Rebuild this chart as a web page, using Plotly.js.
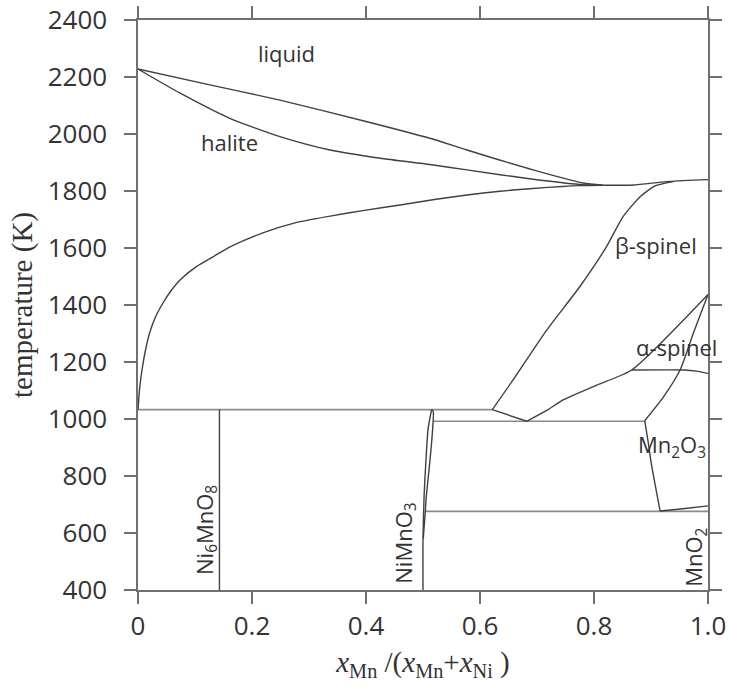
<!DOCTYPE html>
<html>
<head>
<meta charset="utf-8">
<script src="https://cdn.plot.ly/plotly-3.0.1.min.js"></script>
<style>html,body{margin:0;padding:0;background:#fff;}#chart{width:729px;height:688px;}</style>
</head>
<body>
<div id="chart"></div>
<script>
// ---- data (x = xMn/(xMn+xNi), T in K) ----
const liquidusX = [0, 0.12, 0.249, 0.4, 0.512, 0.577, 0.693, 0.781, 0.815];
const liquidusT = [2228, 2175, 2119, 2044, 1985, 1944, 1874, 1828, 1820];

const solidusX = [0, 0.074, 0.161, 0.249, 0.337, 0.425, 0.512, 0.577, 0.693, 0.775, 0.815];
const solidusT = [2228, 2143, 2055, 1991, 1944, 1915, 1893, 1874, 1841, 1823, 1820];

const haliteX = [0, 0.0026, 0.007, 0.014, 0.021, 0.0316, 0.0439, 0.0579, 0.0737, 0.1018, 0.1316, 0.1614, 0.219, 0.277, 0.337, 0.4, 0.46, 0.52, 0.577, 0.635, 0.693, 0.745, 0.775, 0.815];
const haliteT = [1032, 1102, 1172, 1250, 1306, 1362, 1407, 1450, 1488, 1534, 1569, 1604, 1653, 1689, 1712, 1733, 1751, 1770, 1786, 1799, 1809, 1816, 1819, 1820];

const topX = [0.815, 0.869, 0.927, 0.986, 1.0];
const topT = [1820, 1821, 1833, 1839, 1840];

const betaX = [0.6216, 0.658, 0.717, 0.775, 0.822, 0.851, 0.881, 0.907, 0.939];
const betaT = [1033, 1137, 1312, 1464, 1605, 1710, 1780, 1818, 1833];

const vX = [0.6216, 0.682];
const vT = [1033, 992];

const alphaLowX = [0.682, 0.717, 0.746, 0.805, 0.866, 1.0];
const alphaLowT = [992, 1030, 1067, 1119, 1172, 1437];

const alphaFlatX = [0.866, 0.958, 0.98, 1.0];
const alphaFlatT = [1172, 1172, 1168, 1160];

const mn2o3X = [1.0, 0.975, 0.951, 0.921, 0.889];
const mn2o3T = [1437, 1305, 1172, 1075, 994];

const mn2o3LowX = [0.889, 0.895, 0.901, 0.916];
const mn2o3LowT = [994, 920, 838, 677];

const mno2X = [0.916, 0.96, 1.0];
const mno2T = [677, 686, 695];

const lensLeftX = [0.5, 0.5, 0.502, 0.505, 0.509, 0.515];
const lensLeftT = [400, 581, 733, 850, 967, 1033];
const lensRightX = [0.515, 0.518, 0.517, 0.512, 0.506, 0.504, 0.5005];
const lensRightT = [1033, 1026, 967, 850, 733, 675, 581];

const ni6X = [0.1429, 0.1429];
const ni6T = [400, 1033];

const iso1X = [0, 0.6216];   const iso1T = [1033, 1033];
const iso2X = [0.518, 0.889]; const iso2T = [992, 992];
const iso3X = [0.504, 1.0];   const iso3T = [676, 676];

const xTickVals = [0, 0.2, 0.4, 0.6, 0.8, 1.0];
const xTickText = ['0', '0.2', '0.4', '0.6', '0.8', '1.0'];
const yTickVals = [400, 600, 800, 1000, 1200, 1400, 1600, 1800, 2000, 2200, 2400];

// ---- styling ----
const curveColor = '#404040';
const isoColor = '#8a8a8a';
function curve(x, y, smooth) {
  return {x: x, y: y, type: 'scatter', mode: 'lines', hoverinfo: 'skip', showlegend: false,
    line: {color: curveColor, width: 1.4, shape: smooth ? 'spline' : 'linear', smoothing: 0.6}};
}
function iso(x, y) {
  return {x: x, y: y, type: 'scatter', mode: 'lines', hoverinfo: 'skip', showlegend: false,
    line: {color: isoColor, width: 1.6}};
}

const traces = [
  iso(iso1X, iso1T), iso(iso2X, iso2T), iso(iso3X, iso3T),
  curve(liquidusX, liquidusT, true),
  curve(solidusX, solidusT, true),
  curve(haliteX, haliteT, true),
  curve(topX, topT, true),
  curve(betaX, betaT, true),
  curve(vX, vT, false),
  curve(alphaLowX, alphaLowT, true),
  curve(alphaFlatX, alphaFlatT, true),
  curve(mn2o3X, mn2o3T, true),
  curve(mn2o3LowX, mn2o3LowT, true),
  curve(mno2X, mno2T, true),
  curve(lensLeftX, lensLeftT, true),
  curve(lensRightX, lensRightT, true),
  curve(ni6X, ni6T, false)
];

const labFont = {family: 'Open Sans, sans-serif', size: 22, color: '#333'};
function lab(text, x, y, angle) {
  return {text: text, x: x, y: y, xref: 'x', yref: 'y', showarrow: false,
    xanchor: 'center', yanchor: 'middle', textangle: angle || 0, font: labFont};
}

const axisCommon = {
  showline: true, linecolor: '#707070', linewidth: 1.6, mirror: 'ticks',
  ticks: 'outside', ticklen: 12, tickwidth: 1.6, tickcolor: '#707070',
  showgrid: false, zeroline: false,
  tickfont: {family: 'Open Sans, sans-serif', size: 26, color: '#333'}
};

const layout = {
  width: 729, height: 688,
  margin: {l: 138, r: 21, t: 20, b: 98},
  paper_bgcolor: '#fff', plot_bgcolor: '#fff',
  showlegend: false,
  xaxis: Object.assign({}, axisCommon, {
    range: [0, 1], tickvals: xTickVals, ticktext: xTickText,
    title: {text: '<i>x</i><sub>Mn</sub> /(<i>x</i><sub>Mn</sub>+<i>x</i><sub>Ni</sub> )',
      font: {family: 'Liberation Serif, serif', size: 29, color: '#333'}, standoff: 10}
  }),
  yaxis: Object.assign({}, axisCommon, {
    range: [400, 2400], tickvals: yTickVals, ticklabelstandoff: 12,
    title: {text: 'temperature (K)',
      font: {family: 'Liberation Serif, serif', size: 29, color: '#333'}, standoff: 6}
  }),
  annotations: [
    lab('liquid', 0.26, 2284),
    lab('halite', 0.160, 1972),
    lab('β-spinel', 0.909, 1611),
    lab('α-spinel', 0.944, 1253),
    lab('Mn<sub>2</sub>O<sub>3</sub>', 0.937, 905),
    lab('Ni<sub>6</sub>MnO<sub>8</sub>', 0.119, 610, -90),
    lab('NiMnO<sub>3</sub>', 0.468, 565, -90),
    lab('MnO<sub>2</sub>', 0.977, 516, -90)
  ]
};

Plotly.newPlot('chart', traces, layout, {staticPlot: true, displayModeBar: false});
</script>
</body>
</html>
